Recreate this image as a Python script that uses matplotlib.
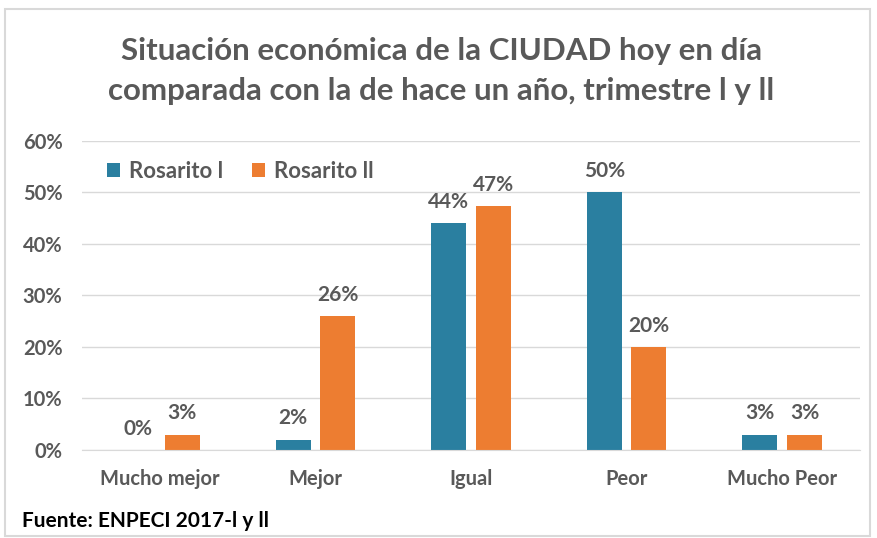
import numpy as np
import matplotlib
matplotlib.use("Agg")
from matplotlib import pyplot as plt
from matplotlib.patches import Rectangle
from matplotlib.ticker import FuncFormatter

plt.rcParams['font.family'] = ['Lato', 'DejaVu Sans']

categories = ["Mucho mejor", "Mejor", "Igual", "Peor", "Mucho Peor"]
rosarito_1 = [0, 2, 44, 50, 3]
rosarito_2 = [3, 26, 47.4, 20, 3]
series_names = ["Rosarito l", "Rosarito ll"]

teal = "#2A7FA0"
orange = "#ED7D31"
gray = "#595959"

fig = plt.figure(figsize=(8.77, 5.38), dpi=100)
ax = fig.add_axes([0.0935, 0.1636, 0.8871, 0.5744])

x = np.arange(len(categories))
w = 0.225
b1 = ax.bar(x - 0.143, rosarito_1, w, color=teal, label=series_names[0])
b2 = ax.bar(x + 0.143, rosarito_2, w, color=orange, label=series_names[1])

# data labels above each bar
for bars, vals in [(b1, rosarito_1), (b2, rosarito_2)]:
    for rect, v in zip(bars, vals):
        ax.text(rect.get_x() + rect.get_width() / 2, v + 2.2, "%.0f%%" % v,
                ha="center", va="bottom", fontsize=15, fontweight="bold", color=gray)

ax.set_xlim(-0.5, 4.5)
ax.set_ylim(0, 60)
ax.set_yticks(range(0, 61, 10))
ax.yaxis.set_major_formatter(FuncFormatter(lambda v, p: "%d%%" % v))
ax.set_xticks(x)
ax.set_xticklabels(categories)
ax.tick_params(axis="both", length=0, labelsize=14.5, labelcolor=gray)
ax.tick_params(axis="x", pad=14)
ax.tick_params(axis="y", pad=14)
for lab in ax.get_xticklabels() + ax.get_yticklabels():
    lab.set_fontweight("bold")
ax.grid(axis="y", color="#D9D9D9", linewidth=1)
ax.set_axisbelow(True)
for s in ["top", "right", "left"]:
    ax.spines[s].set_visible(False)
ax.spines["bottom"].set_color("#D9D9D9")

leg = ax.legend(loc="upper left", bbox_to_anchor=(0.006, 1.0), ncol=2, frameon=False,
                prop={"size": 16, "weight": "bold"}, handlelength=0.6, handleheight=0.6,
                handletextpad=0.4, columnspacing=1.3, labelcolor=gray)

fig.text(0.503, 0.868, "Situación económica de la CIUDAD hoy en día\ncomparada con la de hace un año, trimestre l y ll",
         ha="center", va="center", fontsize=22.5, fontweight="bold", color=gray, linespacing=1.5)

fig.text(0.025, 0.032, "Fuente: ENPECI 2017-l y ll", ha="left", va="center",
         fontsize=15, fontweight="bold", color="black")

# light frame around the whole chart
fig.patches.append(Rectangle((0.006, 0.004), 0.986, 0.98, transform=fig.transFigure,
                             fill=False, edgecolor="#D9D9D9", linewidth=1.5))

fig.savefig("out.png", dpi=100)
